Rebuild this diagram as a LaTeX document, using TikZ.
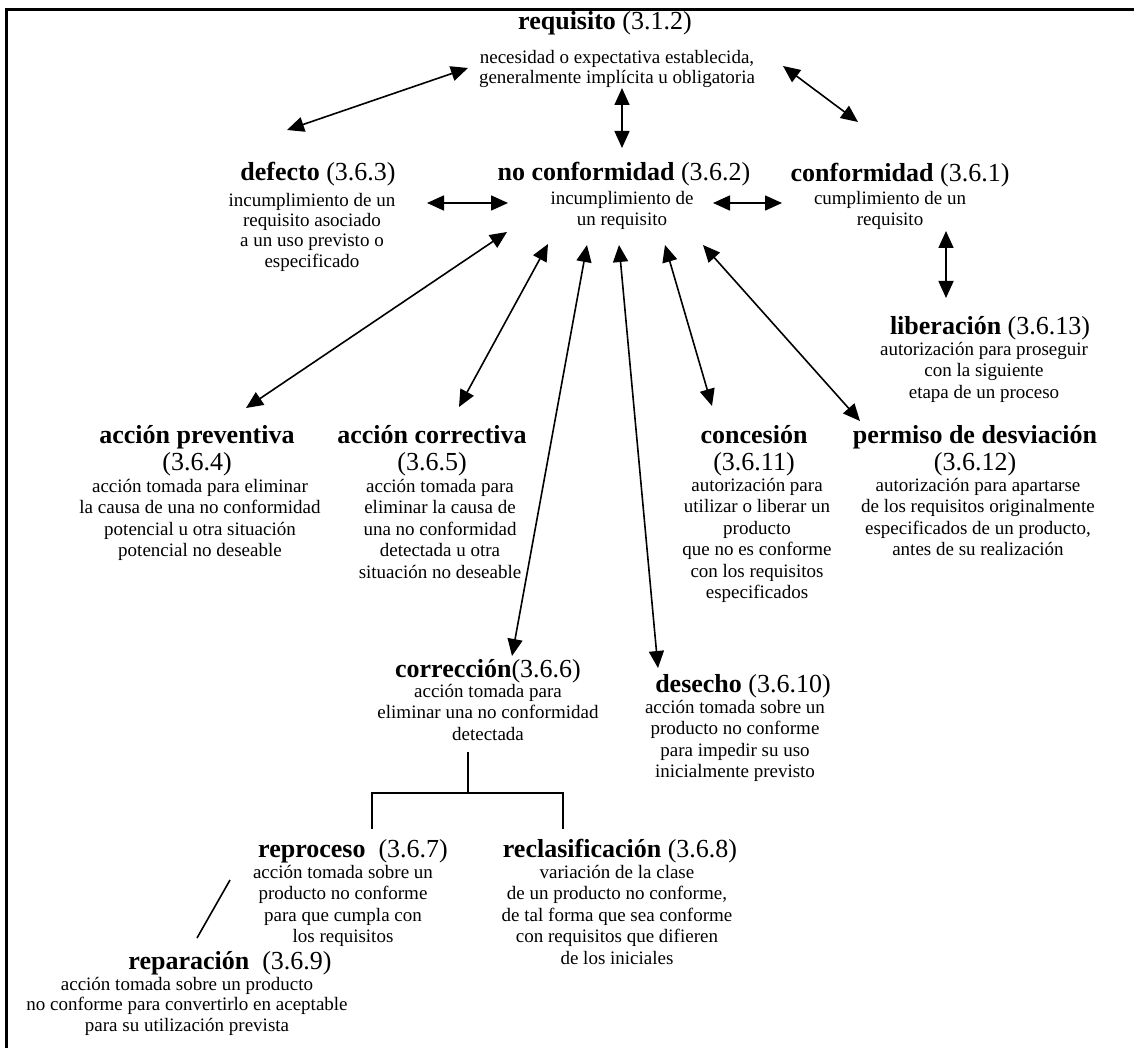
\documentclass[tikz,border=0pt]{standalone}
\usepackage{fontspec}
\setmainfont{Liberation Serif}
\usetikzlibrary{arrows.meta}
\begin{document}
\begin{tikzpicture}[x=1pt,y=-1pt,
  ttl/.style={anchor=north,inner sep=0pt,align=center,font=\fontsize{26}{27}\selectfont},
  txt/.style={anchor=north,inner sep=0pt,align=center,font=\fontsize{19}{21.5}\selectfont},
  tight/.style={font=\fontsize{19}{20.3}\selectfont},
  link/.style={line width=1.6pt,{Triangle[length=17pt,width=15pt]}-{Triangle[length=17pt,width=15pt]}},
  plain/.style={line width=1.6pt}]
\useasboundingbox (0,0) rectangle (1134,1048);
% frame
\draw[line width=3pt] (6,1048) -- (6,10) -- (1134,10);

% terms (title + definition)
\node[ttl] (req-t) at (605,11) {\textbf{requisito} (3.1.2)};
\node[txt,tight] (req) at (617,50) {necesidad o expectativa establecida,\\generalmente implícita u obligatoria};

\node[ttl] (def-t) at (318,162) {\textbf{defecto} (3.6.3)};
\node[txt,tight] (def) at (312,193) {incumplimiento de un\\requisito asociado\\a un uso previsto o\\especificado};

\node[ttl] (nc-t) at (624,162) {\textbf{no conformidad} (3.6.2)};
\node[txt] (nc) at (622,191) {incumplimiento de\\un requisito};

\node[ttl] (conf-t) at (900,163) {\textbf{conformidad} (3.6.1)};
\node[txt] (conf) at (890,191) {cumplimiento de un\\requisito};

\node[ttl] (lib-t) at (990,316) {\textbf{liberación} (3.6.13)};
\node[txt] (lib) at (984,342) {autorización para proseguir\\con la siguiente\\etapa de un proceso};

\node[ttl] (prev-t) at (197,425) {\textbf{acción preventiva}\\(3.6.4)};
\node[txt] (prev) at (200,479) {acción tomada para eliminar\\la causa de una no conformidad\\potencial u otra situación\\potencial no deseable};

\node[ttl] (corr-t) at (432,425) {\textbf{acción correctiva}\\(3.6.5)};
\node[txt] (corr) at (440,479) {acción tomada para\\eliminar la causa de\\una no conformidad\\detectada u otra\\situación no deseable};

\node[ttl] (conc-t) at (754,425) {\textbf{concesión}\\(3.6.11)};
\node[txt] (conc) at (757,478) {autorización para\\utilizar o liberar un\\producto\\que no es conforme\\con los requisitos\\especificados};

\node[ttl] (perm-t) at (975,425) {\textbf{permiso de desviación}\\(3.6.12)};
\node[txt] (perm) at (978,478) {autorización para apartarse\\de los requisitos originalmente\\especificados de un producto,\\antes de su realización};

\node[ttl] (corrn-t) at (488,659) {\textbf{corrección}(3.6.6)};
\node[txt] (corrn) at (488,684) {acción tomada para\\eliminar una no conformidad\\detectada};

\node[ttl] (des-t) at (743,674) {\textbf{desecho} (3.6.10)};
\node[txt] (des) at (735,700) {acción tomada sobre un\\producto no conforme\\para impedir su uso\\inicialmente previsto};

\node[ttl] (repr-t) at (353,839) {\textbf{reproceso}\ \ (3.6.7)};
\node[txt] (repr) at (343,865) {acción tomada sobre un\\producto no conforme\\para que cumpla con\\los requisitos};

\node[ttl] (recl-t) at (620,839) {\textbf{reclasificación} (3.6.8)};
\node[txt] (recl) at (617,865) {variación de la clase\\de un producto no conforme,\\de tal forma que sea conforme\\con requisitos que difieren\\de los iniciales};

\node[ttl] (repa-t) at (230,951) {\textbf{reparación}\ \ (3.6.9)};
\node[txt,tight] (repa) at (187,977) {acción tomada sobre un producto\\no conforme para convertirlo en aceptable\\para su utilización prevista};

% arrow end points
\coordinate (req-a)  at (468,68);  \coordinate (def-a)  at (287,130);
\coordinate (req-b)  at (622,88);  \coordinate (nc-b)   at (622,148);
\coordinate (req-c)  at (783,66);  \coordinate (conf-c) at (858,122);
\coordinate (def-d)  at (427,203); \coordinate (nc-d)   at (508,203);
\coordinate (nc-e)   at (713,203); \coordinate (conf-e) at (782,203);
\coordinate (conf-f) at (946,231); \coordinate (lib-f)  at (946,298);
\coordinate (nc-g)   at (507,232); \coordinate (prev-g) at (246,408);
\coordinate (nc-h)   at (548,244); \coordinate (corr-h) at (459,407);
\coordinate (nc-i)   at (587,245); \coordinate (corrn-i) at (512,656);
\coordinate (nc-j)   at (619,245); \coordinate (des-j)  at (658,668);
\coordinate (nc-k)   at (665,245); \coordinate (conc-k) at (712,406);
\coordinate (nc-l)   at (703,245); \coordinate (perm-l) at (860,421);
% tree below correccion
\coordinate (tr-top) at (468,752); \coordinate (tr-mid) at (468,793);
\coordinate (tr-l) at (372,793);   \coordinate (tr-r) at (563,793);
\coordinate (repr-up) at (372,829); \coordinate (recl-up) at (563,829);
\coordinate (repr-dn) at (230,880); \coordinate (repa-up) at (197,938);

% connectors
\draw[link] (req-a) -- (def-a);
\draw[link] (req-b) -- (nc-b);
\draw[link] (req-c) -- (conf-c);
\draw[link] (def-d) -- (nc-d);
\draw[link] (nc-e) -- (conf-e);
\draw[link] (conf-f) -- (lib-f);
\draw[link] (nc-g) -- (prev-g);
\draw[link] (nc-h) -- (corr-h);
\draw[link] (nc-i) -- (corrn-i);
\draw[link] (nc-j) -- (des-j);
\draw[link] (nc-k) -- (conc-k);
\draw[link] (nc-l) -- (perm-l);
\draw[plain] (tr-top) -- (tr-mid);
\draw[plain] (repr-up) -- (tr-l) -- (tr-r) -- (recl-up);
\draw[plain] (repr-dn) -- (repa-up);
\end{tikzpicture}
\end{document}
